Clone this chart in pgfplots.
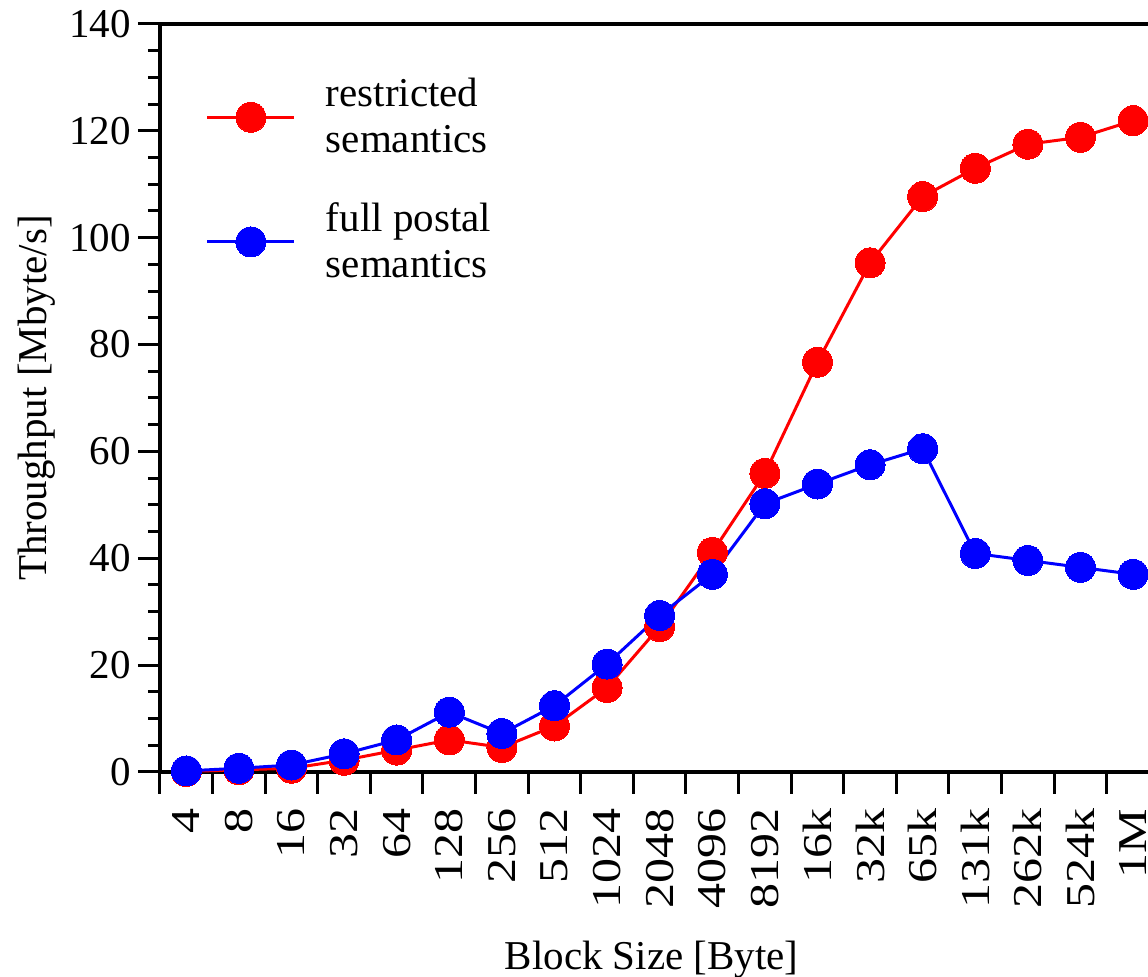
\documentclass[border=0pt]{standalone}
\usepackage{fontspec}
\setmainfont{Liberation Serif}
\usepackage{pgfplots}
\pgfplotsset{compat=1.18}
\definecolor{pRed}{RGB}{255,0,0}
\definecolor{pBlue}{RGB}{0,0,255}
\begin{document}
\begin{tikzpicture}
\begin{axis}[
  at={(0,0)}, anchor=south west,
  scale only axis, width=499.7pt, height=374pt,
  xmin=-0.5, xmax=18.5, ymin=0, ymax=140,
  xtick={-0.5,0.5,...,18.5},
  x tick label as interval,
  xticklabels={4,8,16,32,64,128,256,512,1024,2048,4096,8192,16k,32k,65k,131k,262k,524k,1M},
  ytick={0,20,...,140},
  minor y tick num=3,
  tick align=outside,
  tick pos=left,
  major tick length=11pt, minor tick length=6pt,
  tick style={line width=1.5pt, black},
  axis line style={line width=2pt},
  font=\fontsize{20.5}{23}\selectfont,
  ticklabel style={font=\fontsize{20.5}{23}\selectfont},
  xticklabel style={rotate=90, xscale=1.22, anchor=east},
  xticklabel shift=3pt,
  /pgf/number format/assume math mode=true,
  clip=false,
  xlabel={Block Size [Byte]},
  ylabel={Throughput [Mbyte/s]},
  xlabel style={at={(axis description cs:0.492,-0.2513)}, anchor=center, font=\fontsize{20.5}{23}\selectfont},
  ylabel style={at={(axis description cs:-0.123,0.5)}, anchor=center, font=\fontsize{20.5}{23}\selectfont},
  legend style={draw=none, fill=none, at={(axis description cs:0.0395,0.933)}, anchor=north west,
    row sep=23.5pt, column sep=15pt, nodes={inner sep=0pt, align=left},
    font=\fontsize{20.5}{23}\selectfont},
  legend cell align=left,
  legend image code/.code={\draw[#1, mark repeat=2, mark phase=2] plot coordinates {(0pt,0pt) (21.75pt,0pt) (43.5pt,0pt)};},
]
\addplot[pRed, line width=1.5pt, mark=*, mark size=7.5pt, mark options={solid, fill=pRed, draw=pRed, line width=0pt}]
coordinates {
(0,0.1) (1,0.4) (2,0.7) (3,2.2) (4,4.1) (5,6.0) (6,4.6) (7,8.6) (8,15.8) (9,27.2)
(10,41.1) (11,55.9) (12,76.7) (13,95.3) (14,107.7) (15,113.0) (16,117.5) (17,118.8) (18,121.9)
};
\addlegendentry{restricted\\semantics}
\addplot[pBlue, line width=1.5pt, mark=*, mark size=7.5pt, mark options={solid, fill=pBlue, draw=pBlue, line width=0pt}]
coordinates {
(0,0.2) (1,0.7) (2,1.3) (3,3.4) (4,6.0) (5,11.2) (6,7.2) (7,12.4) (8,20.2) (9,29.3)
(10,37.0) (11,50.2) (12,53.9) (13,57.5) (14,60.5) (15,40.9) (16,39.6) (17,38.3) (18,37.0)
};
\addlegendentry{full postal\\semantics}
\end{axis}
\pgfresetboundingbox
\useasboundingbox (-80pt,-102.5pt) rectangle (494pt,386pt);
\end{tikzpicture}
\end{document}
